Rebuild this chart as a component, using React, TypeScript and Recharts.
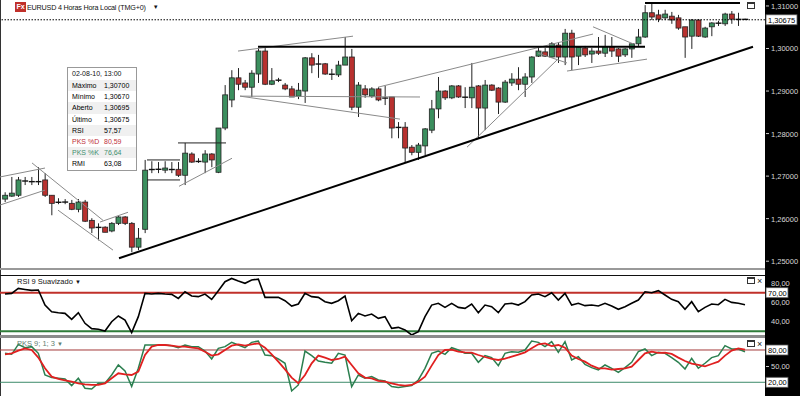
import React from "react";
import {
  ComposedChart,
  Bar,
  XAxis,
  YAxis,
  ReferenceLine,
  LineChart,
  Line
} from "recharts";

// EURUSD 4h candles
const dateLabel = "02-08-10, 13:00";

const opens = [
  1.2646, 1.2653, 1.2655, 1.2687, 1.2688, 1.2686, 1.2691, 1.2655, 1.2639, 1.2639,
  1.2636, 1.2622, 1.2639, 1.2596, 1.258, 1.258, 1.2571, 1.2589, 1.2604, 1.2589,
  1.2533, 1.2575, 1.2716, 1.2716, 1.2714, 1.2716, 1.2716, 1.2702, 1.2752, 1.2735,
  1.2733, 1.2752, 1.2709, 1.2813, 1.2879, 1.2931, 1.2919, 1.2909, 1.294, 1.2994,
  1.2916, 1.2926, 1.2914, 1.2905, 1.2888, 1.29, 1.2978, 1.2964, 1.2964, 1.294,
  1.2938, 1.2961, 1.298, 1.2862, 1.2905, 1.2888, 1.2905, 1.2884, 1.2886, 1.2815,
  1.2815, 1.2768, 1.2756, 1.2771, 1.2808, 1.2858, 1.29, 1.2884, 1.2912, 1.2886,
  1.2884, 1.2912, 1.286, 1.2914, 1.2907, 1.2874, 1.2919, 1.2928, 1.2916, 1.2933,
  1.2982, 1.2992, 1.298, 1.3008, 1.298, 1.3036, 1.2982, 1.3001, 1.2987, 1.2994,
  1.2989, 1.3004, 1.2999, 1.2985, 1.2999, 1.3011, 1.3027, 1.3084, 1.3079, 1.3072,
  1.3076, 1.3072, 1.3051, 1.3029, 1.3067, 1.3027, 1.3051, 1.306, 1.3058, 1.3081,
  1.3069, 1.30695
];
const highs = [
  1.2662, 1.2698, 1.2698, 1.2698, 1.2698, 1.2721, 1.2707, 1.2655, 1.2648, 1.2646,
  1.2644, 1.2646, 1.2644, 1.2601, 1.2589, 1.2582, 1.2592, 1.2606, 1.2606, 1.2592,
  1.2578, 1.2738, 1.2735, 1.2733, 1.2735, 1.2733, 1.2733, 1.2778, 1.2756, 1.2742,
  1.2761, 1.2754, 1.2813, 1.2914, 1.2949, 1.2954, 1.2926, 1.2949, 1.3001, 1.3001,
  1.2954, 1.2931, 1.2919, 1.2912, 1.2919, 1.298, 1.2989, 1.2985, 1.2966, 1.2952,
  1.2971, 1.3027, 1.2999, 1.2921, 1.2914, 1.2909, 1.2909, 1.2912, 1.2886, 1.2827,
  1.2827, 1.2773, 1.2778, 1.2813, 1.2879, 1.2933, 1.2902, 1.2914, 1.2914, 1.2909,
  1.2966, 1.2914, 1.2926, 1.2916, 1.2909, 1.2926, 1.2942, 1.2956, 1.2942, 1.2982,
  1.3001, 1.3001, 1.3015, 1.3015, 1.3046, 1.3044, 1.3004, 1.3006, 1.3001, 1.3027,
  1.3032, 1.3027, 1.3001, 1.3001, 1.3013, 1.3046, 1.3102, 1.3107, 1.3091, 1.3091,
  1.3086, 1.3079, 1.3051, 1.3069, 1.3069, 1.3051, 1.3062, 1.3065, 1.3084, 1.3088,
  1.3084, 1.307
];
const lows = [
  1.2639, 1.2651, 1.2651, 1.2679, 1.2679, 1.2679, 1.2651, 1.2608, 1.2634, 1.2634,
  1.262, 1.2615, 1.2592, 1.2566, 1.2549, 1.2568, 1.2568, 1.2585, 1.2585, 1.2521,
  1.2526, 1.2566, 1.2707, 1.2707, 1.2707, 1.2707, 1.2698, 1.2679, 1.2731, 1.2731,
  1.2707, 1.2721, 1.2707, 1.2808, 1.2862, 1.2902, 1.2902, 1.2886, 1.2919, 1.2914,
  1.2914, 1.2921, 1.2902, 1.2886, 1.2881, 1.2872, 1.2942, 1.2931, 1.2938, 1.2926,
  1.2933, 1.2961, 1.2855, 1.2839, 1.2884, 1.2884, 1.2876, 1.2867, 1.2789, 1.2789,
  1.2731, 1.2749, 1.2738, 1.2749, 1.2801, 1.2836, 1.2879, 1.2881, 1.2884, 1.286,
  1.286, 1.2789, 1.2808, 1.29, 1.2846, 1.2872, 1.2912, 1.2902, 1.2886, 1.2919,
  1.298, 1.298, 1.2978, 1.2966, 1.2961, 1.2949, 1.2961, 1.298, 1.2966, 1.2985,
  1.298, 1.298, 1.2968, 1.298, 1.2978, 1.3006, 1.3025, 1.3067, 1.3062, 1.3067,
  1.3058, 1.3044, 1.2978, 1.2999, 1.3027, 1.3025, 1.3029, 1.3053, 1.3053, 1.3058,
  1.3053, 1.3067
];
const closes = [
  1.2655, 1.266, 1.2691, 1.269, 1.2686, 1.2688, 1.2655, 1.2636, 1.2638, 1.2639,
  1.2622, 1.2639, 1.2594, 1.2578, 1.2579, 1.2568, 1.2589, 1.2604, 1.2589, 1.2533,
  1.2554, 1.2714, 1.2715, 1.2716, 1.2719, 1.2715, 1.2702, 1.2754, 1.2733, 1.2734,
  1.2752, 1.2738, 1.2813, 1.2891, 1.2931, 1.2916, 1.2909, 1.2942, 1.2994, 1.2916,
  1.2924, 1.2925, 1.2905, 1.2886, 1.2902, 1.2978, 1.2961, 1.2963, 1.294, 1.2939,
  1.2961, 1.298, 1.2862, 1.2914, 1.2891, 1.2905, 1.2879, 1.2883, 1.2813, 1.2814,
  1.2766, 1.2756, 1.2773, 1.2811, 1.2858, 1.29, 1.2884, 1.2912, 1.2886, 1.2885,
  1.2909, 1.286, 1.2914, 1.2902, 1.2874, 1.2921, 1.2928, 1.2916, 1.2933, 1.298,
  1.2994, 1.2982, 1.3011, 1.298, 1.3036, 1.298, 1.3003, 1.2985, 1.2994, 1.2989,
  1.3004, 1.2994, 1.2982, 1.2999, 1.3011, 1.3027, 1.3084, 1.3074, 1.3069, 1.3081,
  1.3067, 1.3048, 1.3027, 1.3067, 1.3029, 1.3048, 1.306, 1.3059, 1.3081, 1.3069,
  1.3068, 1.30675
];

const rsi = [
  68.6, 69.3, 74.5, 73.4, 72.4, 72.8, 57.2, 50.3, 49.3, 48.6,
  42.4, 49.3, 38.3, 32.8, 32.1, 30.3, 40, 45.9, 41.7, 28.6,
  45.2, 69.3, 68.6, 69.3, 68.6, 68.3, 64.1, 71, 66.6, 65.9,
  68.6, 63.1, 72.1, 81.4, 84.8, 82.1, 79.7, 83.1, 84.1, 65.2,
  65.2, 65.2, 61.7, 56.2, 58.3, 69.3, 65.9, 65.2, 60.7, 59,
  61.7, 66.6, 41, 48.6, 45.9, 47.9, 43.4, 45.2, 33.1, 34.1,
  31.4, 26.2, 29.7, 45.2, 57.2, 59, 54.8, 59, 54.8, 53.8,
  58.3, 49.3, 57.2, 55.5, 49.3, 58.3, 59, 57.2, 60.7, 67.6,
  68.6, 65.9, 70, 62.4, 69.3, 57.2, 59, 56.6, 57.2, 56.2,
  59, 56.2, 52.8, 55.5, 59, 62.4, 71, 70, 72.1, 67.6,
  63.1, 60.7, 52.8, 60.7, 50.3, 54.8, 58.3, 57.6, 63.1, 60,
  59, 57.57
];
const pksK = [
  73.8, 72, 90.5, 84.3, 86.2, 73.8, 33.6, 28.7, 27.4, 26.2,
  13.8, 27.4, 8.9, 7.6, 18.1, 18.1, 33.6, 52.2, 41, 12,
  46, 89.3, 89.3, 89.3, 89.3, 88, 84.3, 89.3, 86.2, 86.2,
  78.1, 63.3, 83.1, 86.2, 94.2, 89.3, 84.3, 94.2, 96.7, 70.7,
  69.5, 63.3, 55.3, 3.9, 15, 78.1, 69.5, 59.6, 57.1, 55.3,
  73.8, 70.7, 12, 33.6, 27.4, 30.5, 24.3, 22.5, 12, 10.1,
  12, 13.8, 24.3, 46, 73.8, 78.1, 72, 84.3, 80, 73.8,
  73.8, 57.1, 69.5, 65.8, 50.9, 73.8, 76.9, 75.7, 80, 96.7,
  94.2, 86.2, 95.5, 75.7, 95.5, 61.4, 67.6, 53.4, 47.2, 42.9,
  52.2, 46, 38.6, 47.2, 57.1, 76.9, 81.9, 69.5, 75.7, 73.8,
  65.8, 57.1, 44.7, 64.5, 46, 55.3, 65.8, 69.5, 88, 81.9,
  81.9, 76.64
];
const pksD = [
  72, 73.8, 78.8, 83.1, 80, 65.8, 46, 30.5, 26.2, 23.7,
  21.2, 18.1, 16.3, 15, 15, 18.1, 27.4, 36.7, 34.8, 33.6,
  39.8, 70.7, 86.2, 89.3, 89.3, 88, 86.2, 86.2, 84.3, 83.1,
  76.9, 69.5, 72, 80, 88, 90.5, 88, 90.5, 92.4, 84.3,
  72, 58.4, 44.1, 28.7, 18.1, 33.6, 55.3, 69.5, 65.8, 61.4,
  63.3, 67.6, 52.2, 36.7, 28.7, 27.4, 22.5, 21.2, 18.1, 15,
  13.8, 15, 21.2, 30.5, 50.9, 70.7, 80, 80.6, 76.9, 75.7,
  75, 70.7, 67, 63.3, 61.4, 63.9, 67.6, 71.3, 75.7, 83.1,
  90.5, 92.4, 87.4, 89.3, 84.3, 69.5, 63.3, 58.4, 50.9, 46,
  46, 43.5, 44.7, 46, 49.1, 61.4, 73.8, 76.9, 74.5, 75,
  72.6, 65.8, 59.6, 54.6, 52.2, 49.7, 54, 58.4, 69.5, 78.8,
  83.1, 80.59
];
const rmi = 63.08;

const priceTicks = [1.25, 1.26, 1.27, 1.28, 1.29, 1.3, 1.31];
const lastPrice = 1.30675;
const rsiTicks = [40, 60, 80];
const rsiHigh = 70;
const rsiLow = 30;
const pksMid = 50;
const pksHigh = 80;
const pksLow = 20;

// drawn lines: [candle index, price, candle index, price]
const heavyLines = [
  [17.1, 1.2507, 112.2, 1.3004],
  [37.95, 1.3004, 96, 1.3004],
  [96, 1.3107, 110.25, 1.3107]
];
const blackLines = [
  [21.3, 1.2738, 26.25, 1.2738],
  [21.3, 1.2691, 26.25, 1.2691],
  [25.95, 1.2778, 33.15, 1.2778]
];
const grayLines = [
  [-0.75, 1.2698, 6, 1.2719],
  [-0.75, 1.2632, 6, 1.2667],
  [4.05, 1.2731, 14.7, 1.2596],
  [7.95, 1.262, 16.2, 1.2526],
  [14.25, 1.2592, 18.45, 1.2615],
  [26.1, 1.2676, 34.05, 1.2742],
  [34.95, 1.2994, 52.2, 1.3029],
  [35.25, 1.2888, 62.25, 1.2886],
  [35.25, 1.2888, 59.25, 1.2834],
  [55.95, 1.2909, 88.2, 1.3034],
  [69.3, 1.2768, 82.8, 1.2973],
  [88.2, 1.3051, 94.2, 1.3011],
  [84.3, 1.2947, 96.3, 1.2975],
  [79.95, 1.2989, 84.3, 1.2966]
];

const candles = opens.map((o, i) => ({
  i,
  o,
  h: highs[i],
  l: lows[i],
  c: closes[i],
  range: [lows[i], highs[i]],
  rsi: rsi[i],
  k: pksK[i],
  d: pksD[i]
}));

const FONT = "'Liberation Sans', Arial, sans-serif";
const GREEN = "#3b8f5e";
const RED = "#b8312f";
const X_DOMAIN = [-0.75, 114];
const PKS_DOMAIN = [-5.5, 102.3];
const PKS_TOP = 338;
const PKS_HEIGHT = 58;

const fmt = (v: number, n: number) => v.toFixed(n).replace(".", ",");

function Candle(props: any) {
  const { x, y, width, height, payload } = props;
  const top = Math.min(y, y + height);
  const bot = Math.max(y, y + height);
  const k = (bot - top) / (payload.h - payload.l);
  const cx = x + width / 2;
  const yo = top + (payload.h - payload.o) * k;
  const yc = top + (payload.h - payload.c) * k;
  const up = payload.c >= payload.o;
  const bt = Math.min(yo, yc);
  const bh = Math.abs(yc - yo);
  return (
    <g>
      <line x1={cx} x2={cx} y1={top} y2={bot} stroke="#222" strokeWidth={1} />
      {bh < 1.5 ? (
        <line x1={cx - 3} x2={cx + 3} y1={bt + bh / 2} y2={bt + bh / 2} stroke="#111" strokeWidth={1.4} />
      ) : (
        <rect x={cx - 2.5} y={bt} width={5} height={bh} fill={up ? GREEN : RED} stroke="#222" strokeWidth={0.8} />
      )}
    </g>
  );
}

function AxisLabel({ x, y, text, boxed, boxWidth }: { x: number; y: number; text: string; boxed: boolean; boxWidth: number }) {
  if (boxed) {
    return (
      <g>
        <rect x={x + 1} y={y - 5} width={boxWidth} height={10} fill="#fff" stroke="#555" strokeWidth={0.8} />
        <text x={x + 3} y={y + 3} fontSize={7.5} fill="#000" fontFamily={FONT}>{text}</text>
      </g>
    );
  }
  return (
    <g>
      <line x1={x + 1} x2={x + 4} y1={y} y2={y} stroke="#ccc" />
      <text x={x + 6} y={y + 3} fontSize={7.5} fill="#d8d8d8" fontFamily={FONT}>{text}</text>
    </g>
  );
}

function PriceTick(props: any) {
  const { x, y, payload } = props;
  const v = payload.value;
  return <AxisLabel x={x} y={y} text={fmt(v, 5)} boxed={Math.abs(v - lastPrice) < 1e-7} boxWidth={31} />;
}

// boxed level label drawn at the right end of a reference line
function levelLabel(v: number, boxed: boolean) {
  return (p: any) => {
    const vb = p.viewBox || {};
    return <AxisLabel x={(vb.x || 0) + (vb.width || 0)} y={vb.y || 0} text={fmt(v, 2)} boxed={boxed} boxWidth={22} />;
  };
}

function plainLabel(v: number) {
  return { value: fmt(v, 2), position: "right" as const, offset: 6, fill: "#d8d8d8", fontSize: 7.5, fontFamily: FONT };
}

function segment(s: number[]) {
  return [{ x: s[0], y: s[1] }, { x: s[2], y: s[3] }];
}

function PanelIcons({ top, close }: { top: number; close: boolean }) {
  return (
    <div style={{ position: "absolute", left: 747, top, width: 16, height: 9, fontSize: 9, fontFamily: FONT, lineHeight: "9px", color: "#222", zIndex: 3 }}>
      <span style={{ display: "inline-block", width: 6, height: 4, border: "1px solid #333", borderTopWidth: 2, marginRight: 2 }} />
      {close ? "×" : ""}
    </div>
  );
}

const last = candles.length - 1;
const infoRows = [
  { label: "Máximo", value: fmt(highs[last], 5), color: "#000" },
  { label: "Mínimo", value: fmt(lows[last], 5), color: "#000" },
  { label: "Aberto", value: fmt(opens[last], 5), color: "#000" },
  { label: "Último", value: fmt(closes[last], 5), color: "#000" },
  { label: "RSI", value: fmt(rsi[last], 2), color: "#000" },
  { label: "PKS %D", value: fmt(pksD[last], 2), color: "#c0303a" },
  { label: "PKS %K", value: fmt(pksK[last], 2), color: "#3f8f6e" },
  { label: "RMI", value: fmt(rmi, 2), color: "#000" }
];

const yAxisCommon = {
  orientation: "right" as const,
  width: 35,
  type: "number" as const,
  allowDataOverflow: true,
  interval: 0,
  minTickGap: 0,
  tickLine: false,
  tickSize: 0,
  tickMargin: 0,
  axisLine: false
};

// middle PKS label, placed on the same linear scale as the panel
const pksMidTop = PKS_TOP + ((PKS_DOMAIN[1] - pksMid) / (PKS_DOMAIN[1] - PKS_DOMAIN[0])) * PKS_HEIGHT;

export default function App() {
  return (
    <div style={{ position: "absolute", left: 0, top: 0, width: 800, height: 396, background: "#fff", overflow: "hidden", fontFamily: FONT }}>
      <div style={{ position: "absolute", left: 765, top: 0, width: 35, height: 396, background: "#000", zIndex: 0 }} />
      <div style={{ position: "absolute", left: 0, top: 0, width: 1, height: 396, background: "#333" }} />

      {/* separators */}
      <div style={{ position: "absolute", left: 0, top: 268, width: 765, height: 2, background: "#999" }} />
      <div style={{ position: "absolute", left: 0, top: 275, width: 765, height: 1, background: "#111" }} />
      <div style={{ position: "absolute", left: 0, top: 335, width: 765, height: 3, background: "#8c8c8c" }} />

      {/* main price panel */}
      <div style={{ position: "absolute", left: 0, top: 0, zIndex: 1 }}>
        <ComposedChart width={800} height={268} data={candles} margin={{ top: 0, right: 0, bottom: 0, left: 0 }}>
          <XAxis dataKey="i" type="number" domain={X_DOMAIN} hide allowDataOverflow />
          <YAxis {...yAxisCommon} domain={[1.2484, 1.3114]} ticks={[...priceTicks, lastPrice]} tick={<PriceTick />} />
          <ReferenceLine y={lastPrice} stroke="#000" strokeDasharray="1.5 1.5" />
          {grayLines.map((s, j) => (
            <ReferenceLine key={"g" + j} segment={segment(s)} stroke="#8a8a8a" strokeWidth={1} ifOverflow="visible" />
          ))}
          {blackLines.map((s, j) => (
            <ReferenceLine key={"b" + j} segment={segment(s)} stroke="#222" strokeWidth={1} ifOverflow="visible" />
          ))}
          <Bar dataKey="range" barSize={5} shape={(p: any) => <Candle {...p} />} isAnimationActive={false} />
          {heavyLines.map((s, j) => (
            <ReferenceLine key={"h" + j} segment={segment(s)} stroke="#000" strokeWidth={2} ifOverflow="visible" />
          ))}
        </ComposedChart>
      </div>

      {/* title */}
      <div style={{ position: "absolute", left: 15, top: 2, display: "flex", alignItems: "center", fontSize: 7.2, letterSpacing: -0.2, color: "#111", zIndex: 3 }}>
        <span style={{ display: "inline-block", width: 11, height: 10, background: "#c0302a", color: "#fff", fontSize: 7, fontWeight: "bold", letterSpacing: 0, lineHeight: "10px", textAlign: "center", marginRight: 1 }}>Fx</span>
        <span>EURUSD 4 Horas Hora Local (TMG+0)</span>
        <span style={{ marginLeft: 7, fontSize: 6 }}>▼</span>
      </div>
      <PanelIcons top={2} close={false} />

      {/* data box */}
      <div style={{ position: "absolute", left: 67, top: 67, width: 68, border: "1px solid #999", background: "#fff", fontSize: 7, color: "#111", zIndex: 3 }}>
        <div style={{ height: 12, lineHeight: "12px", paddingLeft: 4 }}>{dateLabel}</div>
        {infoRows.map((r, j) => (
          <div key={r.label} style={{ display: "flex", height: 11.2, lineHeight: "11.2px", background: j % 2 === 0 ? "#f0f0f0" : "#fff", color: r.color }}>
            <span style={{ width: 32, paddingLeft: 4 }}>{r.label}</span>
            <span>{r.value}</span>
          </div>
        ))}
      </div>

      {/* RSI panel */}
      <div style={{ position: "absolute", left: 0, top: 276, zIndex: 1 }}>
        <LineChart width={800} height={59} data={candles} margin={{ top: 0, right: 0, bottom: 0, left: 0 }}>
          <XAxis dataKey="i" type="number" domain={X_DOMAIN} hide allowDataOverflow />
          <YAxis {...yAxisCommon} domain={[26.2, 87.3]} tick={false} />
          {rsiTicks.map((v) => (
            <ReferenceLine key={"rt" + v} y={v} stroke="#000" strokeOpacity={0} ifOverflow="visible" label={plainLabel(v)} />
          ))}
          <ReferenceLine y={rsiHigh} stroke="#c0302a" strokeWidth={2} label={levelLabel(rsiHigh, true)} />
          <ReferenceLine y={rsiLow} stroke="#2f7d3a" strokeWidth={2} />
          <Line type="linear" dataKey="rsi" stroke="#000" strokeWidth={1.6} dot={false} isAnimationActive={false} />
        </LineChart>
      </div>
      <div style={{ position: "absolute", left: 17, top: 277, fontSize: 7.5, color: "#111", zIndex: 3 }}>
        RSI 9 Suavizado <span style={{ fontSize: 6 }}>▼</span>
      </div>
      <PanelIcons top={277} close={true} />

      {/* PKS panel */}
      <div style={{ position: "absolute", left: 0, top: PKS_TOP, zIndex: 1 }}>
        <LineChart width={800} height={PKS_HEIGHT} data={candles} margin={{ top: 0, right: 0, bottom: 0, left: 0 }}>
          <XAxis dataKey="i" type="number" domain={X_DOMAIN} hide allowDataOverflow />
          <YAxis {...yAxisCommon} domain={PKS_DOMAIN} tick={false} />
          <ReferenceLine y={pksHigh} stroke="#a33a3a" strokeWidth={1} label={levelLabel(pksHigh, true)} />
          <ReferenceLine y={pksLow} stroke="#3c8a6a" strokeWidth={1} label={levelLabel(pksLow, true)} />
          <Line type="linear" dataKey="k" stroke="#2b7f4f" strokeWidth={1.5} dot={false} isAnimationActive={false} />
          <Line type="linear" dataKey="d" stroke="#e02020" strokeWidth={1.8} dot={false} isAnimationActive={false} />
        </LineChart>
      </div>
      <div style={{ position: "absolute", left: 766, top: pksMidTop - 5, height: 10, display: "flex", alignItems: "center", fontSize: 7.5, color: "#d8d8d8", zIndex: 4 }}>
        <span style={{ display: "inline-block", width: 3, height: 1, background: "#ccc", marginRight: 2 }} />
        {fmt(pksMid, 2)}
      </div>
      <div style={{ position: "absolute", left: 17, top: 339, fontSize: 7.5, color: "#5f7f72", zIndex: 3 }}>
        PKS 9; 1; 3 <span style={{ fontSize: 6 }}>▼</span>
      </div>
      <PanelIcons top={340} close={true} />
    </div>
  );
}
